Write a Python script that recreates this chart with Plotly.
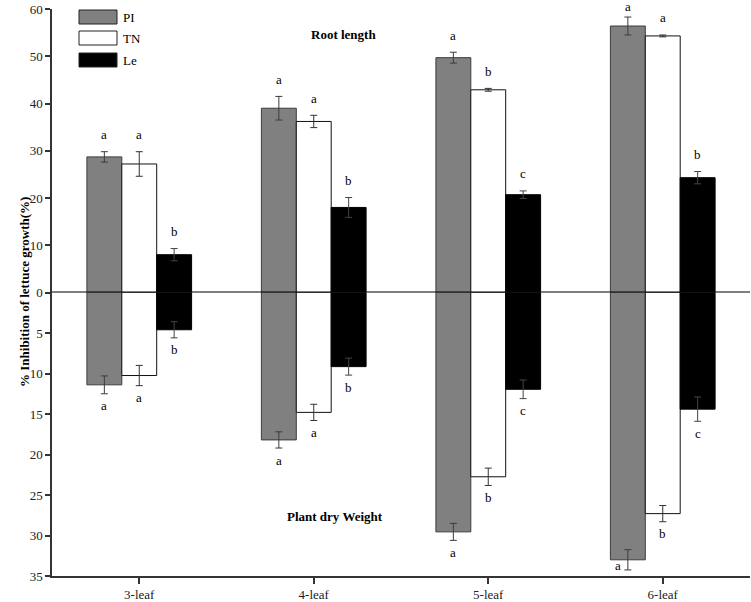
import plotly.graph_objects as go
from plotly.subplots import make_subplots

categories = ["3-leaf", "4-leaf", "5-leaf", "6-leaf"]
series = ["PI", "TN", "Le"]

# Root length inhibition (%) – upper panel
root_PI = [28.7, 39.0, 49.7, 56.4]
root_TN = [27.2, 36.2, 42.9, 54.3]
root_Le = [8.0, 18.0, 20.7, 24.3]
root_PI_err = [1.1, 2.5, 1.15, 1.9]
root_TN_err = [2.6, 1.3, 0.3, 0.2]
root_Le_err = [1.3, 2.1, 0.8, 1.3]
root_PI_let = ["a", "a", "a", "a"]
root_TN_let = ["a", "a", "b", "a"]
root_Le_let = ["b", "b", "c", "b"]

# Plant dry weight inhibition (%) – lower panel
dw_PI = [11.4, 18.2, 29.55, 33.0]
dw_TN = [10.25, 14.8, 22.75, 27.3]
dw_Le = [4.6, 9.15, 11.95, 14.4]
dw_PI_err = [1.1, 1.0, 1.05, 1.25]
dw_TN_err = [1.25, 1.0, 1.07, 1.0]
dw_Le_err = [1.0, 1.05, 1.15, 1.5]
dw_PI_let = ["a", "a", "a", "a"]
dw_TN_let = ["a", "a", "b", "b"]
dw_Le_let = ["b", "b", "c", "c"]

fills = {"PI": "#808080", "TN": "#ffffff", "Le": "#000000"}
outlines = {"PI": "#3c3c3c", "TN": "#111111", "Le": "#000000"}
errcols = {"PI": "#3c3c3c", "TN": "#333333", "Le": "#444444"}

FONT = "Liberation Serif, Times New Roman, serif"

fig = make_subplots(rows=2, cols=1, shared_xaxes=True, vertical_spacing=0)

top = {"PI": (root_PI, root_PI_err, root_PI_let),
       "TN": (root_TN, root_TN_err, root_TN_let),
       "Le": (root_Le, root_Le_err, root_Le_let)}
bot = {"PI": (dw_PI, dw_PI_err, dw_PI_let),
       "TN": (dw_TN, dw_TN_err, dw_TN_let),
       "Le": (dw_Le, dw_Le_err, dw_Le_let)}

for s in series:
    vals, errs, _ = top[s]
    fig.add_trace(go.Bar(
        x=categories, y=vals, name=s, offsetgroup=s, showlegend=False,
        marker=dict(color=fills[s], line=dict(color=outlines[s], width=1)),
        error_y=dict(type="data", array=errs, visible=True,
                     color=errcols[s], thickness=1, width=3.5),
        hoverinfo="skip"), row=1, col=1)
for s in series:
    vals, errs, _ = bot[s]
    fig.add_trace(go.Bar(
        x=categories, y=vals, name=s, offsetgroup=s, showlegend=False,
        marker=dict(color=fills[s], line=dict(color=outlines[s], width=1)),
        error_y=dict(type="data", array=errs, visible=True,
                     color=errcols[s], thickness=1, width=3.5),
        hoverinfo="skip"), row=2, col=1)

# significance letters
offsets = {"PI": -1, "TN": 0, "Le": 1}
slot = (1 - 0.4) / 3
annos = []
for s in series:
    vals, errs, lets = top[s]
    for i, c in enumerate(categories):
        ys = 17
        if s == "PI" and i == 3:
            ys = 11
        annos.append(dict(x=i + offsets[s] * slot, y=vals[i] + errs[i],
                          xref="x", yref="y", text=lets[i], showarrow=False,
                          yanchor="middle", yshift=ys,
                          font=dict(family=FONT, size=13, color="#000")))
    vals, errs, lets = bot[s]
    for i, c in enumerate(categories):
        xs = 0
        ys = -12
        yv = vals[i] + errs[i]
        if s == "PI" and i == 3:
            xs = -10
            ys = 0
            yv = vals[i] + errs[i] * 0.6
        annos.append(dict(x=i + offsets[s] * slot, y=yv,
                          xref="x2", yref="y2", text=lets[i], showarrow=False,
                          yanchor="middle", yshift=ys, xshift=xs,
                          font=dict(family=FONT, size=13, color="#000")))

# panel titles
annos.append(dict(x=1.17, y=54.5, xref="x", yref="y", text="<b>Root length</b>",
                  showarrow=False, font=dict(family=FONT, size=13, color="#000")))
annos.append(dict(x=1.12, y=27.7, xref="x2", yref="y2", text="<b>Plant dry Weight</b>",
                  showarrow=False, font=dict(family=FONT, size=13, color="#000")))

FW, FH = 751, 602
L, R, T, B = 52, 750, 9, 576
W, H = R - L, B - T
def px(p): return (p - L) / W
def py(p): return (B - p) / H

shapes = [dict(type="line", xref="paper", yref="y", x0=0, x1=1, y0=0, y1=0,
               line=dict(color="#000", width=2), layer="above")]
leg_rows = [("PI", 10, 24), ("TN", 31, 45), ("Le", 53, 67)]
for s, y0, y1 in leg_rows:
    shapes.append(dict(type="rect", xref="paper", yref="paper",
                       x0=px(79), x1=px(117), y0=py(y1), y1=py(y0),
                       fillcolor=fills[s], line=dict(color="#222", width=1)))
    annos.append(dict(x=px(121), y=py((y0 + y1) / 2), xref="paper", yref="paper",
                      text=s, showarrow=False, xanchor="left", yanchor="middle",
                      font=dict(family=FONT, size=13, color="#000")))

annos.append(dict(x=px(15), y=0.5, xref="paper", yref="paper",
                  text="<b>% Inhibition of lettuce growth(%)</b>", textangle=-90,
                  showarrow=False, font=dict(family=FONT, size=13, color="#000")))

fig.update_layout(
    width=FW, height=FH,
    margin=dict(l=L, r=FW - R, t=T, b=FH - B, autoexpand=False),
    plot_bgcolor="white", paper_bgcolor="white",
    barmode="group", bargap=0.4, bargroupgap=0,
    showlegend=False,
    annotations=annos, shapes=shapes,
    font=dict(family=FONT, size=13, color="#222"),
)

fig.update_xaxes(row=1, col=1, showline=False,
                 showticklabels=False, ticks="", showgrid=False, zeroline=False,
                 range=[-0.5, 3.5])
fig.update_xaxes(row=2, col=1, showline=True, linecolor="#333", linewidth=1.5,
                 ticks="outside", ticklen=6, tickwidth=1.5, tickcolor="#333",
                 showgrid=False, zeroline=False, range=[-0.5, 3.5],
                 tickfont=dict(family=FONT, size=13, color="#222"))
fig.update_yaxes(row=1, col=1, range=[0, 60], tickvals=[0, 10, 20, 30, 40, 50, 60],
                 showline=True, linecolor="#333", linewidth=1.5, ticks="outside",
                 ticklen=5, tickwidth=1.5, tickcolor="#333", showgrid=False,
                 zeroline=False, tickfont=dict(family=FONT, size=13, color="#222"))
fig.update_yaxes(row=2, col=1, range=[35, 0], tickvals=[5, 10, 15, 20, 25, 30, 35],
                 showline=True, linecolor="#333", linewidth=1.5, ticks="outside",
                 ticklen=5, tickwidth=1.5, tickcolor="#333", showgrid=False,
                 zeroline=False, tickfont=dict(family=FONT, size=13, color="#222"))

fig.write_html("out.html", config={"displayModeBar": False},
               post_script="document.body.style.margin='0px';document.body.style.overflow='hidden';")
